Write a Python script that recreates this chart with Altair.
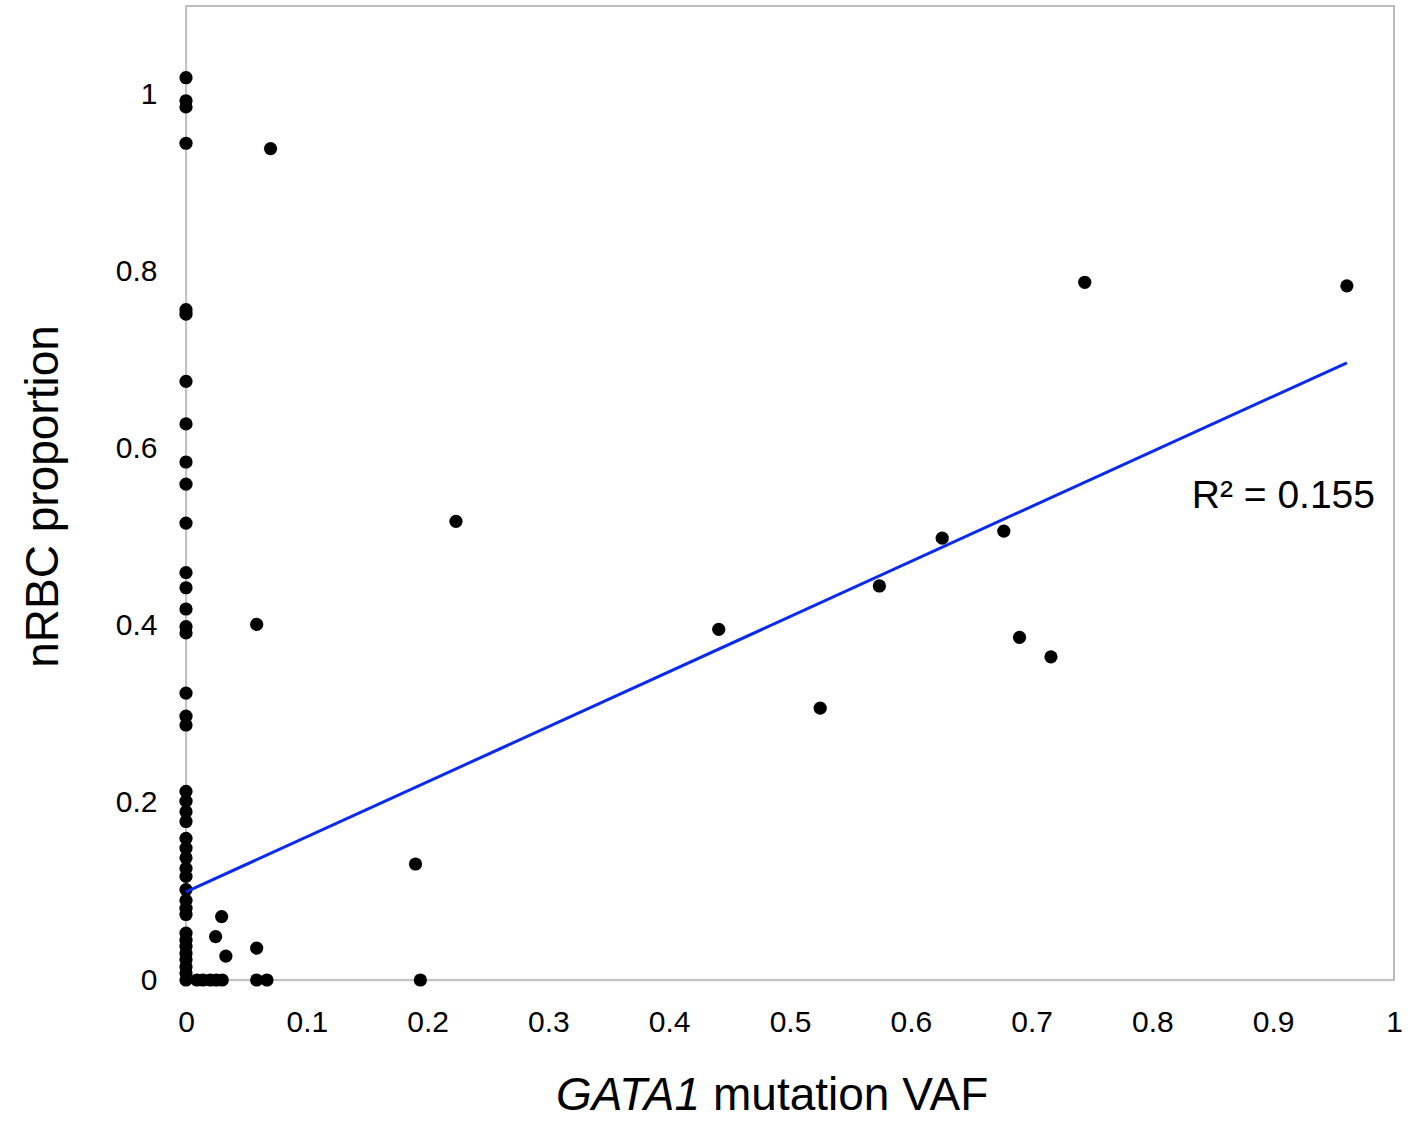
import altair as alt
import pandas as pd

# nRBC proportion of samples with GATA1 VAF = 0
zero_vaf_nrbc = [1.019, 0.993, 0.986, 0.945, 0.757, 0.752, 0.676, 0.628, 0.585, 0.560,
                 0.516, 0.460, 0.443, 0.419, 0.399, 0.392, 0.324, 0.298, 0.288, 0.213,
                 0.202, 0.190, 0.179, 0.160, 0.149, 0.138, 0.126, 0.117, 0.102, 0.090,
                 0.081, 0.074, 0.053, 0.045, 0.038, 0.030, 0.023, 0.015, 0.008, 0.0]

# samples with GATA1 VAF > 0
other_vaf = [0.009, 0.014, 0.020, 0.025, 0.030, 0.0585, 0.067, 0.194,
             0.0295, 0.0245, 0.033, 0.0585, 0.190,
             0.0585, 0.070, 0.2235, 0.441, 0.525, 0.574, 0.626, 0.677, 0.690, 0.716, 0.744, 0.961]
other_nrbc = [0.0, 0.0, 0.0, 0.0, 0.0, 0.0, 0.0, 0.0,
              0.0716, 0.049, 0.027, 0.036, 0.131,
              0.4016, 0.939, 0.518, 0.396, 0.307, 0.445, 0.499, 0.507, 0.387, 0.365, 0.788, 0.784]

# linear trend line endpoints
trend_vaf = [0.0, 0.961]
trend_nrbc = [0.0995, 0.697]

x_ticks = [0, 0.1, 0.2, 0.3, 0.4, 0.5, 0.6, 0.7, 0.8, 0.9, 1]
y_ticks = [0, 0.2, 0.4, 0.6, 0.8, 1]

r2_label = ["R² = 0.155"]
x_title_italic = ["GATA1"]
x_title_rest = ["mutation VAF"]
y_title = "nRBC proportion"

FONT = "Liberation Sans"

pts = pd.DataFrame({
    "vaf": [0.0] * len(zero_vaf_nrbc) + other_vaf,
    "nrbc": zero_vaf_nrbc + other_nrbc,
})
trend = pd.DataFrame({"vaf": trend_vaf, "nrbc": trend_nrbc})

xscale = alt.Scale(domain=[0, 1], nice=False, zero=True)
yscale = alt.Scale(domain=[0, 1.1], nice=False, zero=True)

xaxis = alt.Axis(values=x_ticks, format="~g", title=None, grid=False, ticks=False, tickSize=0,
                 labelPadding=27, labelFontSize=30, labelFont=FONT, labelColor="#000000",
                 domainColor="#c8c8c8", domainWidth=1.5, labelFlush=False)
yaxis = alt.Axis(values=y_ticks, format="~g", title=y_title, grid=False, ticks=False, tickSize=0,
                 labelPadding=29, labelFontSize=30, labelFont=FONT, labelColor="#000000",
                 domainColor="#c8c8c8", domainWidth=1.5,
                 titleFont=FONT, titleFontSize=46, titleFontWeight="normal", titleColor="#000000",
                 titleAngle=270, titleAlign="center", titleBaseline="alphabetic",
                 titleX=-129, titleY=490)

points = alt.Chart(pts).mark_circle(size=175, opacity=1, color="#000000").encode(
    x=alt.X("vaf:Q", scale=xscale, axis=xaxis),
    y=alt.Y("nrbc:Q", scale=yscale, axis=yaxis),
)

line = alt.Chart(trend).mark_line(color="#0a2af0", strokeWidth=3).encode(
    x=alt.X("vaf:Q", scale=xscale),
    y=alt.Y("nrbc:Q", scale=yscale),
)

r2 = alt.Chart(pd.DataFrame({"t": r2_label})).mark_text(
    font=FONT, fontSize=39, align="right", baseline="alphabetic", color="#000000"
).encode(text="t:N", x=alt.value(1189), y=alt.value(502))

xt1 = alt.Chart(pd.DataFrame({"t": x_title_italic})).mark_text(
    font=FONT, fontSize=46, fontStyle="italic", align="right", baseline="alphabetic", color="#000000"
).encode(text="t:N", x=alt.value(514), y=alt.value(1104))

xt2 = alt.Chart(pd.DataFrame({"t": x_title_rest})).mark_text(
    font=FONT, fontSize=46, align="left", baseline="alphabetic", color="#000000"
).encode(text="t:N", x=alt.value(527), y=alt.value(1104))

chart = alt.layer(points, line, r2, xt1, xt2).properties(
    width=1208, height=974,
    autosize=alt.AutoSizeParams(type="none"),
    padding={"left": 186, "top": 6, "right": 15, "bottom": 149},
    background="#ffffff",
).configure_view(stroke="#a6a6a6", strokeWidth=1.5)

chart.save("out.html", embed_options={"renderer": "svg", "actions": False})
